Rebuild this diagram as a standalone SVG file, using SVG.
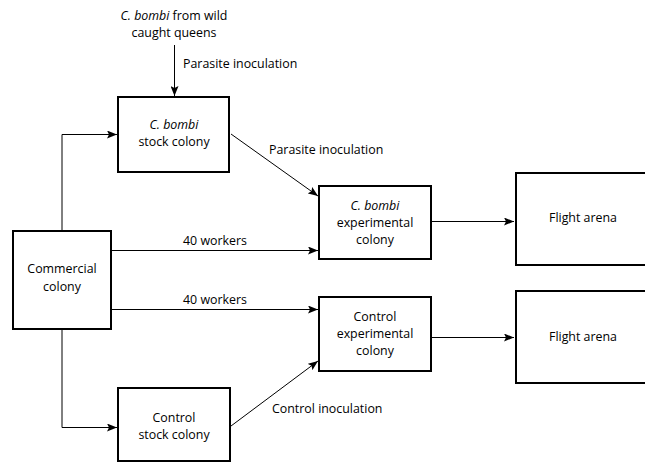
<svg xmlns="http://www.w3.org/2000/svg" width="645" height="462" viewBox="0 0 645 462">
<defs>
<marker id="ah" viewBox="0 0 10 8" refX="10" refY="4" markerWidth="10" markerHeight="8" markerUnits="userSpaceOnUse" orient="auto">
<path d="M0,0 L10,4 L0,8 L2,4 Z" fill="#000"/>
</marker>
<style>
.box{fill:#fff;stroke:#000;stroke-width:2}
.t{font-family:"Open Sans","Liberation Sans",sans-serif;font-size:12.4px;fill:#000;text-anchor:middle}
.l{font-family:"Open Sans","Liberation Sans",sans-serif;font-size:12.4px;fill:#000}
.c{fill:none;stroke:#000;stroke-width:1;marker-end:url(#ah)}
</style>
</defs>
<rect width="645" height="462" fill="#fff"/>
<g id="connectors">
<path class="c" d="M174.5,45 V96"/>
<path class="c" d="M62,231 V134.5 H117"/>
<path class="c" d="M62,329 V427.5 H117"/>
<path class="c" d="M231,134 L318,196"/>
<path class="c" d="M111,250.5 H318"/>
<path class="c" d="M111,309.5 H318"/>
<path class="c" d="M231,426 L318,361"/>
<path class="c" d="M431,221.5 H514"/>
<path class="c" d="M431,337.5 H514"/>
</g>
<g id="labels">
<text class="t" x="174" y="20"><tspan font-style="italic">C. bombi</tspan> from wild</text>
<text class="t" x="174" y="37">caught queens</text>
<text class="l" x="183" y="68">Parasite inoculation</text>
<text class="l" x="269" y="154">Parasite inoculation</text>
<text class="t" x="215" y="245">40 workers</text>
<text class="t" x="215" y="304">40 workers</text>
<text class="l" x="272" y="413">Control inoculation</text>
</g>
<g id="stock-bombi">
<rect class="box" x="118" y="97" width="111" height="75"/>
<text class="t" x="174" y="129" font-style="italic">C. bombi</text>
<text class="t" x="174" y="146">stock colony</text>
</g>
<g id="commercial">
<rect class="box" x="13" y="231" width="98" height="98"/>
<text class="t" x="62" y="273">Commercial</text>
<text class="t" x="62" y="291">colony</text>
</g>
<g id="exp-bombi">
<rect class="box" x="319" y="186" width="112" height="73"/>
<text class="t" x="375" y="210" font-style="italic">C. bombi</text>
<text class="t" x="375" y="227">experimental</text>
<text class="t" x="375" y="244">colony</text>
</g>
<g id="exp-control">
<rect class="box" x="319" y="297" width="112" height="74"/>
<text class="t" x="375" y="321">Control</text>
<text class="t" x="375" y="338">experimental</text>
<text class="t" x="375" y="355">colony</text>
</g>
<g id="arena-1">
<rect class="box" x="516" y="173" width="140" height="92"/>
<text class="t" x="583" y="222">Flight arena</text>
</g>
<g id="arena-2">
<rect class="box" x="516" y="291" width="140" height="92"/>
<text class="t" x="583" y="341">Flight arena</text>
</g>
<g id="stock-control">
<rect class="box" x="118" y="388" width="112" height="73"/>
<text class="t" x="174" y="422">Control</text>
<text class="t" x="174" y="439">stock colony</text>
</g>
</svg>
